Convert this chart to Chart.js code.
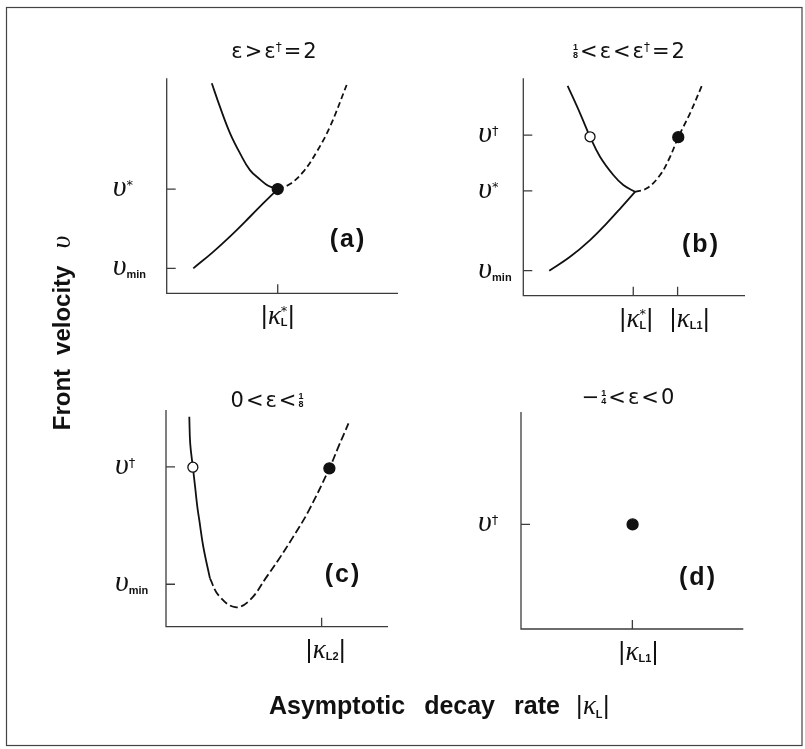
<!DOCTYPE html>
<html>
<head>
<meta charset="utf-8">
<script src="https://cdn.jsdelivr.net/npm/chart.js@4"></script>
<style>
  html, body { margin: 0; padding: 0; background: #fff; }
  #fig { position: relative; width: 805px; height: 749px; }
  #fig canvas { position: absolute; left: 0; top: 0; }
</style>
</head>
<body>
<div id="fig">
  <canvas id="pa" width="805" height="749"></canvas>
  <canvas id="pb" width="805" height="749"></canvas>
  <canvas id="pc" width="805" height="749"></canvas>
  <canvas id="pd" width="805" height="749"></canvas>
</div>
<script>
// panel (a): eps > eps+ = 2   (axes run 0..10 in both directions)
const aUpper = [[1.95, 9.77], [2.30, 8.68], [2.74, 7.44], [3.17, 6.51], [3.60, 5.73], [4.03, 5.30], [4.39, 5.00], [4.80, 4.85]]
const aUpperDash = [[4.80, 4.85], [5.33, 5.08], [5.91, 5.66], [6.49, 6.59], [7.06, 7.75], [7.78, 9.69]]
const aLower = [[1.15, 1.16], [2.01, 1.93], [2.88, 2.79], [3.60, 3.56], [4.18, 4.19], [4.80, 4.85]]
const aFilled = [[4.80, 4.85]]
const aTickX = [4.80]
const aTickXLabels = ['|κ_{L}^{*}|']
const aTickY = [4.85, 1.16]
const aTickYLabels = ['υ^{*}', 'υ_{min}']

// panel (b): 1/8 < eps < eps+ = 2
const bUpper = [[2.00, 9.65], [2.56, 8.39], [3.01, 7.31], [3.46, 6.39], [4.06, 5.55], [4.51, 5.09], [5.04, 4.78]]
const bUpperDash = [[5.04, 4.78], [5.57, 4.94], [6.17, 5.55], [6.62, 6.39], [6.99, 7.29], [7.52, 8.39], [8.05, 9.65]]
const bLower = [[1.17, 1.15], [2.11, 1.79], [3.01, 2.56], [3.76, 3.33], [4.44, 4.09], [5.04, 4.78]]
const bOpen = [[3.01, 7.31]]
const bFilled = [[6.99, 7.29]]
const bTickX = [4.96, 6.96]
const bTickXLabels = ['|κ_{L}^{*}|', '|κ_{L1}|']
const bTickY = [7.39, 4.82, 1.15]
const bTickYLabels = ['υ^{†}', 'υ^{*}', 'υ_{min}']

// panel (c): 0 < eps < 1/8
const cSolid = [[1.05, 9.69], [1.09, 8.46], [1.21, 7.36], [1.31, 6.46], [1.41, 5.54], [1.50, 4.92], [1.68, 3.69], [1.98, 2.23]]
const cDash = [[1.98, 2.23], [2.36, 1.46], [3.11, 0.90], [3.78, 1.23], [4.54, 2.31], [5.06, 3.08], [5.70, 4.10], [6.40, 5.30], [7.36, 7.31], [7.77, 8.31], [8.22, 9.38]]
const cOpen = [[1.21, 7.36]]
const cFilled = [[7.36, 7.31]]
const cTickX = [7.01]
const cTickXLabels = ['|κ_{L2}|']
const cTickY = [7.38, 1.96]
const cTickYLabels = ['υ^{†}', 'υ_{min}']

// panel (d): -1/4 < eps < 0
const dFilled = [[5.02, 4.82]]
const dTickX = [5.01]
const dTickXLabels = ['|κ_{L1}|']
const dTickY = [4.82]
const dTickYLabels = ['υ^{†}']

const INK = '#111'

const yTickFont = {
  main: 'italic 30px "Liberation Serif"', bar: '24px "Liberation Sans"',
  sub: 'bold 11px "Liberation Sans"', sup: '13px "DejaVu Sans"',
  subDy: 3, supDy: -7, gap: 0
}
const xTickFont = {
  main: 'italic 27px "Liberation Serif"', bar: '25px "Liberation Sans"',
  sub: 'bold 11px "Liberation Sans"', sup: '13px "DejaVu Sans"',
  subDy: 2, supDy: -9, gap: 0.5
}
const titleFont = {
  main: '21px "DejaVu Sans"', bar: '21px "DejaVu Sans"',
  sub: '12px "DejaVu Sans"', sup: '12px "DejaVu Sans"',
  frac: 'bold 9px "Liberation Sans"', fracTop: -8.5, fracBot: 0,
  subDy: 4, supDy: -7, gap: 2
}

//  Split "|κ_{L}^{*}|" style strings into glyph, sub, sup and fraction pieces
function parseRich (str) {
  const re = /_\{([^}]*)\}|\^\{([^}]*)\}|\{([^}/]*)\/([^}]*)\}|([^_^{])/g
  const toks = []
  let m
  while ((m = re.exec(str))) {
    if (m[1] !== undefined) toks.push({ k: 'sub', t: m[1] })
    else if (m[2] !== undefined) toks.push({ k: 'sup', t: m[2] })
    else if (m[3] !== undefined) toks.push({ k: 'frac', a: m[3], b: m[4] })
    else toks.push({ k: m[5] === '|' ? 'bar' : 'main', t: m[5] })
  }
  return toks
}

function drawRich (ctx, str, x, y, f, align) {
  const toks = parseRich(str)
  const items = []
  let cx = 0
  let scriptX = 0
  toks.forEach((tk, i) => {
    const prev = toks[i - 1]
    if (tk.k === 'sub' || tk.k === 'sup') {
      ctx.font = f[tk.k]
      const w = ctx.measureText(tk.t).width
      const stacked = prev && (prev.k === 'sub' || prev.k === 'sup')
      if (!stacked) scriptX = cx - f.gap
      items.push({ t: tk.t, font: f[tk.k], x: scriptX, dy: tk.k === 'sub' ? f.subDy : f.supDy })
      cx = stacked ? Math.max(cx, scriptX + w + f.gap) : scriptX + w + f.gap
    } else if (tk.k === 'frac') {
      ctx.font = f.frac
      const wa = ctx.measureText(tk.a).width
      const wb = ctx.measureText(tk.b).width
      const w = Math.max(wa, wb)
      items.push({ t: tk.a, font: f.frac, x: cx + (w - wa) / 2, dy: f.fracTop })
      items.push({ t: tk.b, font: f.frac, x: cx + (w - wb) / 2, dy: f.fracBot })
      cx += w + f.gap
    } else {
      ctx.font = f[tk.k]
      const w = ctx.measureText(tk.t).width
      items.push({ t: tk.t, font: f[tk.k], x: cx, dy: 0 })
      cx += w + f.gap
    }
  })
  const width = cx - f.gap
  const x0 = align === 'center' ? x - width / 2 : x
  ctx.textAlign = 'left'
  ctx.textBaseline = 'alphabetic'
  items.forEach(it => {
    ctx.font = it.font
    ctx.fillText(it.t, x0 + it.x, y + it.dy)
  })
  return width
}

//  Axes, inward ticks, tick labels, title and panel letter
const panelDecor = {
  id: 'panelDecor',
  afterDraw (chart, args, o) {
    const { ctx, chartArea: ca, scales: { x, y } } = chart
    ctx.save()
    ctx.strokeStyle = '#3c3c3c'
    ctx.lineWidth = 1.3
    ctx.beginPath()
    ctx.moveTo(ca.left, ca.top)
    ctx.lineTo(ca.left, ca.bottom)
    ctx.lineTo(ca.right, ca.bottom)
    o.xTicks.forEach(v => {
      const px = x.getPixelForValue(v)
      ctx.moveTo(px, ca.bottom)
      ctx.lineTo(px, ca.bottom - 9)
    })
    o.yTicks.forEach(v => {
      const py = y.getPixelForValue(v)
      ctx.moveTo(ca.left, py)
      ctx.lineTo(ca.left + 9, py)
    })
    ctx.stroke()

    ctx.fillStyle = INK
    o.xLabels.forEach((s, i) => {
      drawRich(ctx, s, x.getPixelForValue(o.xTicks[i]) + o.xLabelDx[i], ca.bottom + 31, xTickFont, 'center')
    })
    o.yLabels.forEach((s, i) => {
      drawRich(ctx, s, ca.left - o.yLabelOff, y.getPixelForValue(o.yTicks[i]) + 7, yTickFont, 'left')
    })
    drawRich(ctx, o.title, o.titleX, o.titleY, titleFont, 'center')

    ctx.font = 'bold 25px "Liberation Sans"'
    ctx.letterSpacing = '2px'
    ctx.textAlign = 'center'
    ctx.textBaseline = 'middle'
    ctx.fillText(o.letter, o.letterX + 1, o.letterY)
    ctx.restore()
  }
}

//  Page frame and the two shared axis titles (only on the first canvas)
const pageDecor = {
  id: 'pageDecor',
  afterDraw (chart) {
    const ctx = chart.ctx
    ctx.save()
    ctx.strokeStyle = '#444'
    ctx.lineWidth = 1.2
    ctx.strokeRect(6.5, 7.5, 795.5, 738)

    ctx.fillStyle = INK
    ctx.textBaseline = 'alphabetic'
    ctx.textAlign = 'left'

    // vertical title
    ctx.save()
    ctx.translate(70, 333)
    ctx.rotate(-Math.PI / 2)
    ctx.font = 'bold 24px "Liberation Sans"'
    const w1 = ctx.measureText('Front').width
    const w2 = ctx.measureText('velocity').width
    ctx.font = 'italic 28px "Liberation Serif"'
    const w3 = ctx.measureText('υ').width
    let px = -(w1 + w2 + w3 + 14 + 17) / 2
    ctx.font = 'bold 24px "Liberation Sans"'
    ctx.fillText('Front', px, 0)
    px += w1 + 14
    ctx.fillText('velocity', px, 0)
    px += w2 + 17
    ctx.font = 'italic 28px "Liberation Serif"'
    ctx.fillText('υ', px, 0)
    ctx.restore()

    // horizontal title
    const words = ['Asymptotic', 'decay', 'rate']
    let hx = 269
    words.forEach(wd => {
      ctx.font = 'bold 25px "Liberation Sans"'
      ctx.fillText(wd, hx, 714)
      hx += ctx.measureText(wd).width + 19
    })
    drawRich(ctx, '|κ_{L}|', hx - 3, 714, {
      main: 'italic 27px "Liberation Serif"', bar: '25px "Liberation Sans"',
      sub: 'bold 11px "Liberation Sans"', sup: '13px "DejaVu Sans"',
      subDy: 4, supDy: -9, gap: 0.5
    }, 'left')
    ctx.restore()
  }
}

const pts = arr => arr.map(([x, y]) => ({ x, y }))

function curve (arr, dashed) {
  return {
    data: pts(arr),
    borderColor: INK,
    borderWidth: 1.8,
    borderDash: dashed ? dashed : [],
    pointRadius: 0,
    fill: false,
    tension: 0.4,
    order: 1
  }
}

function marker (arr, filled) {
  return {
    data: pts(arr),
    showLine: false,
    pointRadius: filled ? 5.5 : 5,
    pointBackgroundColor: filled ? INK : '#fff',
    pointBorderColor: INK,
    pointBorderWidth: 1.3,
    order: 0
  }
}

function makePanel (id, box, datasets, decor, extra) {
  return new Chart(document.getElementById(id), {
    type: 'line',
    data: { datasets },
    options: {
      responsive: false,
      animation: false,
      events: [],
      layout: {
        padding: { left: box[0], top: box[1], right: 805 - box[2], bottom: 749 - box[3] }
      },
      scales: {
        x: { type: 'linear', min: 0, max: 10, display: false },
        y: { type: 'linear', min: 0, max: 10, display: false }
      },
      plugins: {
        legend: { display: false },
        tooltip: { enabled: false },
        panelDecor: decor
      }
    },
    plugins: extra ? [panelDecor, extra] : [panelDecor]
  })
}

makePanel('pa', [166.7, 78.3, 398, 293.3], [
  marker(aFilled, true),
  curve(aUpper), curve(aUpperDash, [6, 3.5]), curve(aLower)
], {
  xTicks: aTickX, xLabels: aTickXLabels, xLabelDx: [0],
  yTicks: aTickY, yLabels: aTickYLabels, yLabelOff: 54,
  title: 'ε>ε^{†}=2', titleX: 274, titleY: 58,
  letter: '(a)', letterX: 347, letterY: 240
}, pageDecor)

makePanel('pb', [523.3, 78.3, 745, 295.7], [
  marker(bOpen, false), marker(bFilled, true),
  curve(bUpper), curve(bUpperDash, [6, 3.5]), curve(bLower)
], {
  xTicks: bTickX, xLabels: bTickXLabels, xLabelDx: [3, 12],
  yTicks: bTickY, yLabels: bTickYLabels, yLabelOff: 45,
  title: '{1/8}<ε<ε^{†}=2', titleX: 629, titleY: 58,
  letter: '(b)', letterX: 700, letterY: 245
})

makePanel('pc', [166, 410, 388, 626.7], [
  marker(cOpen, false), marker(cFilled, true),
  curve(cSolid), curve(cDash, [8, 3.5])
], {
  xTicks: cTickX, xLabels: cTickXLabels, xLabelDx: [4],
  yTicks: cTickY, yLabels: cTickYLabels, yLabelOff: 51,
  title: '0<ε<{1/8}', titleX: 267, titleY: 407,
  letter: '(c)', letterX: 342, letterY: 575
})

makePanel('pd', [521, 412, 743.3, 629], [
  marker(dFilled, true)
], {
  xTicks: dTickX, xLabels: dTickXLabels, xLabelDx: [6],
  yTicks: dTickY, yLabels: dTickYLabels, yLabelOff: 43,
  title: '−{1/4}<ε<0', titleX: 628, titleY: 404,
  letter: '(d)', letterX: 697, letterY: 578
})
</script>
</body>
</html>
